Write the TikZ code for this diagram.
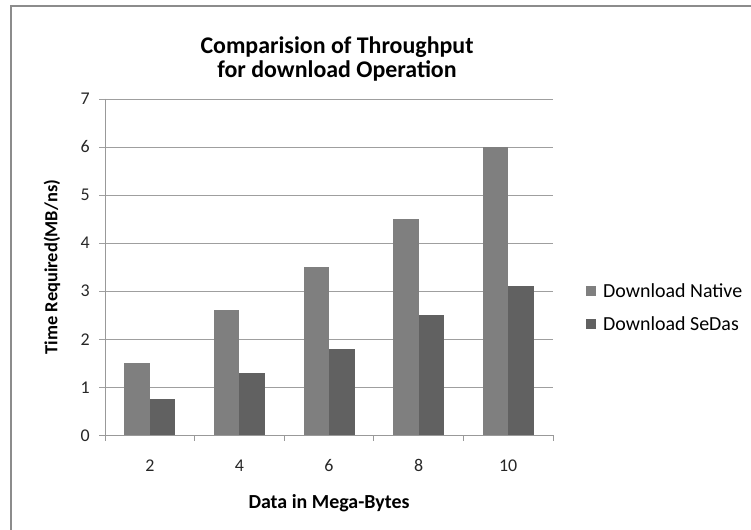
\documentclass[tikz,border=0pt]{standalone}
\usepackage{fontspec}
\setmainfont{Carlito}
\begin{document}
\begin{tikzpicture}[x=1bp,y=-1bp,
  gridline/.style={draw=gray!75,line width=0.8bp},
  axisline/.style={draw=gray!80,line width=0.8bp},
  nativebar/.style={fill=nativegray},
  sedasbar/.style={fill=sedasgray},
  ticklabel/.style={font=\fontsize{18}{20}\selectfont,text=black!85,inner sep=0pt},
  axistitle/.style={font=\bfseries\fontsize{20}{22}\selectfont},
  titleline/.style={font=\bfseries\fontsize{24}{26}\selectfont,anchor=base},
  legendtext/.style={font=\fontsize{20}{22}\selectfont,anchor=west,inner sep=0pt}]
\definecolor{nativegray}{HTML}{7F7F7F}
\definecolor{sedasgray}{HTML}{616161}
\definecolor{framegray}{HTML}{8C8C8C}
\useasboundingbox (0,0) rectangle (751,530);
% chart frame (left and top edges)
\draw[framegray,line width=2bp] (10.5,530) -- (10.5,6.5) -- (751,6.5);
% title
\node[titleline] (title1) at (337,54) {Comparision of Throughput};
\node[titleline] (title2) at (337,78) {for download Operation};
% horizontal gridlines and value labels
\foreach \v in {1,...,7} {
  \draw[gridline] (99,{435-48*\v}) -- (553,{435-48*\v});
}
\foreach \v in {0,...,7} {
  \node[ticklabel,anchor=base east] (ylab\v) at (90,{441-48*\v}) {\v};
}
% axes
\draw[axisline] (105,99) -- (105,441);
\draw[axisline] (99,435) -- (553,435);
\foreach \i in {0,...,5} {
  \draw[axisline] ({105+89.6*\i},435) -- ({105+89.6*\i},441);
}
% bars: native / SeDas
\foreach \i/\n/\s/\lab in {0/1.5/0.75/2, 1/2.6/1.3/4, 2/3.5/1.8/6, 3/4.5/2.5/8, 4/6/3.1/10} {
  \pgfmathsetmacro{\cx}{105+89.6*\i+44.8}
  \fill[nativebar] ({\cx-25.5},435) rectangle (\cx,{435-48*\n});
  \fill[sedasbar] (\cx,435) rectangle ({\cx+25.5},{435-48*\s});
  \node[ticklabel,anchor=base] (xlab\i) at (\cx,471) {\lab};
}
% axis titles
\node[axistitle] (xtitle) at (329,503) {Data in Mega-Bytes};
\node[axistitle,rotate=90,font=\bfseries\fontsize{18.5}{20}\selectfont] (ytitle) at (52,267) {Time Required(MB/ns)};
% legend
\fill[nativegray] (586,286) rectangle (596,296) coordinate (keyA);
\fill[sedasgray] (586,319) rectangle (596,329) coordinate (keyB);
\node[legendtext] (legA) at (603,291) {Download Native};
\node[legendtext] (legB) at (603,324) {Download SeDas};
\end{tikzpicture}
\end{document}
